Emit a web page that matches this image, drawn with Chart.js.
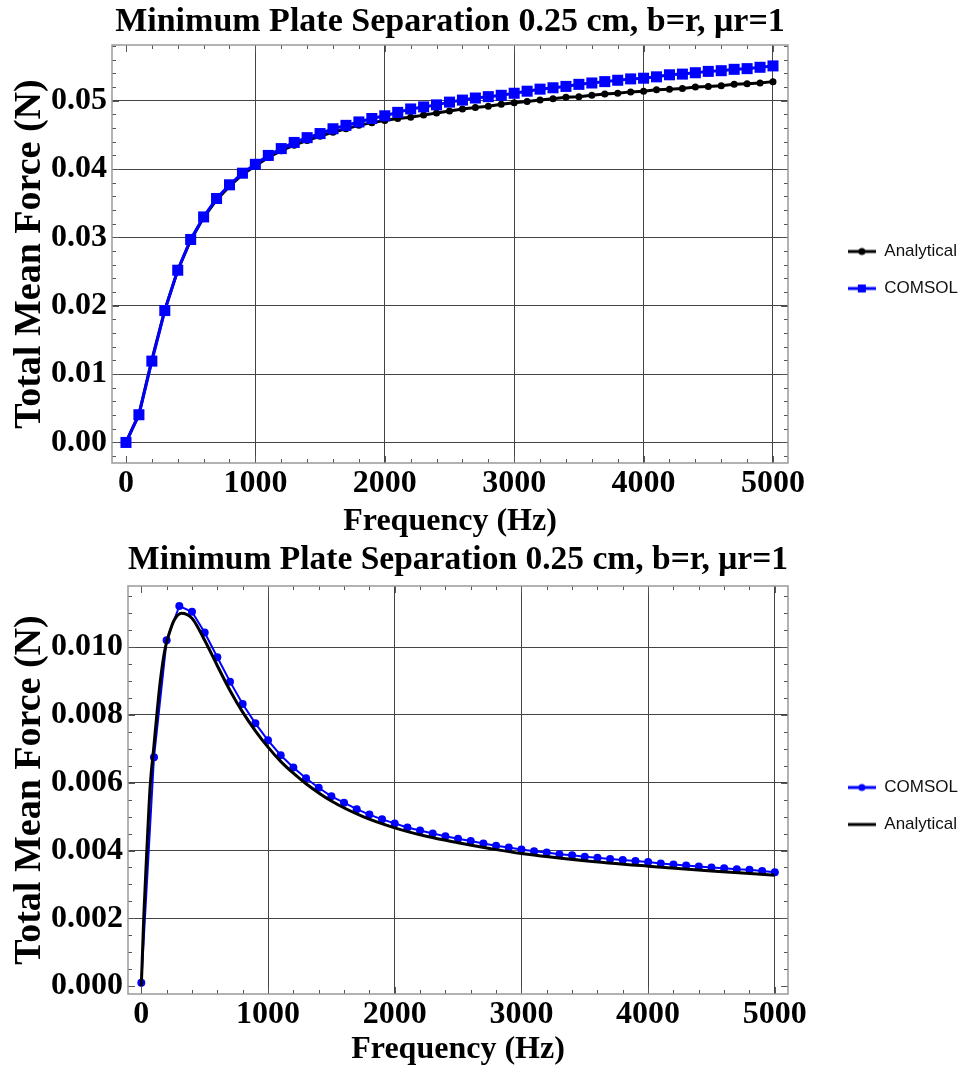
<!DOCTYPE html>
<html>
<head>
<meta charset="utf-8">
<script src="https://cdn.jsdelivr.net/npm/chart.js@4.4.1/dist/chart.umd.min.js"></script>
<style>
  body { margin: 0; background: #fff; }
  canvas { display: block; }
</style>
</head>
<body>
<canvas id="topChart" width="968" height="540"></canvas>
<canvas id="bottomChart" width="968" height="532"></canvas>
<script>
const plotTitle = "Minimum Plate Separation 0.25 cm, b=r, \u03bcr=1";

// frequency samples (Hz)
const freq = [0, 100, 200, 300, 400, 500, 600, 700, 800, 900, 1000,
  1100, 1200, 1300, 1400, 1500, 1600, 1700, 1800, 1900, 2000,
  2100, 2200, 2300, 2400, 2500, 2600, 2700, 2800, 2900, 3000,
  3100, 3200, 3300, 3400, 3500, 3600, 3700, 3800, 3900, 4000,
  4100, 4200, 4300, 4400, 4500, 4600, 4700, 4800, 4900, 5000];

// top plot
const analyticalTop = [0, 0.0041, 0.0121, 0.0194, 0.0252, 0.0296, 0.0329, 0.0355, 0.0375, 0.0392, 0.0405,
  0.0417, 0.0427, 0.0435, 0.0442, 0.0448, 0.0454, 0.0459, 0.0464, 0.0468, 0.0471,
  0.0474, 0.0476, 0.0479, 0.0482, 0.0485, 0.0488, 0.0490, 0.0492, 0.0495, 0.0497,
  0.0499, 0.0501, 0.0503, 0.0505, 0.0506, 0.0508, 0.0510, 0.0511, 0.0513, 0.0514,
  0.0516, 0.0517, 0.0518, 0.0520, 0.0521, 0.0522, 0.0524, 0.0525, 0.0526, 0.0528];
const comsolTop = [0, 0.00405, 0.0119, 0.0193, 0.0252, 0.0297, 0.0330, 0.0357, 0.0377, 0.0394, 0.0407,
  0.0420, 0.0430, 0.0439, 0.0446, 0.0452, 0.0459, 0.0464, 0.0469, 0.0474, 0.0478,
  0.0483, 0.0488, 0.0491, 0.0494, 0.0498, 0.0501, 0.0504, 0.0506, 0.0508, 0.0511,
  0.0514, 0.0517, 0.0519, 0.0521, 0.0524, 0.0526, 0.0528, 0.0530, 0.0532, 0.0533,
  0.0535, 0.0538, 0.0539, 0.0541, 0.0543, 0.0544, 0.0546, 0.0547, 0.0549, 0.0551];

// bottom plot
const comsolBottom = [0.0001, 0.00675, 0.0102, 0.01121, 0.01104, 0.01043, 0.0097, 0.00898, 0.00832, 0.00775, 0.00725,
  0.00681, 0.00645, 0.00613, 0.00585, 0.0056, 0.00541, 0.00522, 0.00506, 0.00492, 0.0048,
  0.00468, 0.00459, 0.0045, 0.00442, 0.00435, 0.00428, 0.00421, 0.00414, 0.00409, 0.00403,
  0.00398, 0.00394, 0.00389, 0.00386, 0.00382, 0.00379, 0.00375, 0.00372, 0.00369, 0.00366,
  0.00362, 0.00359, 0.00356, 0.00353, 0.0035, 0.00348, 0.00345, 0.00343, 0.0034, 0.00336];
const analyticalFreq = [0, 20, 45, 70, 100, 125, 150, 185, 220, 260, 316, 400, 500, 600, 700,
  800, 900, 1000, 1100, 1200, 1300, 1500, 1750, 2000, 2250, 2500, 2750, 3000, 3500, 4000, 4500, 5000];
const analyticalBottom = [0, 0.0021, 0.0041, 0.0059, 0.0071, 0.0081, 0.0090, 0.0099, 0.0104, 0.0108, 0.0110, 0.01085, 0.0102, 0.00945, 0.00872,
  0.00808, 0.00753, 0.00705, 0.00663, 0.00628, 0.00597, 0.00546, 0.0050, 0.00467, 0.00442, 0.00423, 0.00406, 0.00391, 0.0037, 0.00354, 0.0034, 0.00327];

// ticks
const xTicks = [0, 1000, 2000, 3000, 4000, 5000];
const yTicksTop = [0, 0.01, 0.02, 0.03, 0.04, 0.05];
const yLabelsTop = ['0.00', '0.01', '0.02', '0.03', '0.04', '0.05'];
const yTicksBottom = [0, 0.002, 0.004, 0.006, 0.008, 0.010];
const yLabelsBottom = ['0.000', '0.002', '0.004', '0.006', '0.008', '0.010'];

Chart.defaults.font.family = "'Liberation Serif', 'Times New Roman', serif";
Chart.defaults.color = '#000';

// frame + inward tick marks, like the original plot
const frameTicks = {
  id: 'frameTicks',
  beforeDatasetsDraw(chart, args, o) {
    const { ctx, chartArea: a } = chart;
    const sx = chart.scales.x, sy = chart.scales.y;
    ctx.save();
    ctx.strokeStyle = '#555';
    ctx.lineWidth = 1;
    const seg = (x1, y1, x2, y2) => { ctx.beginPath(); ctx.moveTo(x1, y1); ctx.lineTo(x2, y2); ctx.stroke(); };
    for (let i = Math.ceil(sx.min / o.xMinor); i * o.xMinor <= sx.max; i++) {
      const v = i * o.xMinor;
      const major = Math.abs(v / o.xMajor - Math.round(v / o.xMajor)) < 1e-6;
      const len = major ? 7 : 4;
      const px = Math.round(sx.getPixelForValue(v)) + 0.5;
      seg(px, a.bottom, px, a.bottom - len);
      seg(px, a.top, px, a.top + len);
    }
    for (let i = Math.ceil(sy.min / o.yMinor - 1e-9); i * o.yMinor <= sy.max + 1e-12; i++) {
      const v = i * o.yMinor;
      const major = Math.abs(v / o.yMajor - Math.round(v / o.yMajor)) < 1e-6;
      const len = major ? 7 : 4;
      const py = Math.round(sy.getPixelForValue(v)) + 0.5;
      seg(a.left, py, a.left + len, py);
      seg(a.right, py, a.right - len, py);
    }
    ctx.strokeStyle = '#999';
    ctx.lineWidth = 1.5;
    ctx.strokeRect(a.left, a.top, a.right - a.left, a.bottom - a.top);
    ctx.restore();
  }
};

function legendIcon(color, marker) {
  const c = document.createElement('canvas');
  c.width = 28; c.height = 12;
  const g = c.getContext('2d');
  g.strokeStyle = color; g.fillStyle = color; g.lineWidth = 3;
  g.beginPath(); g.moveTo(0, 6); g.lineTo(28, 6); g.stroke();
  if (marker === 'circle') { g.beginPath(); g.arc(14, 6, 3.5, 0, Math.PI * 2); g.fill(); }
  if (marker === 'rect') g.fillRect(10, 2, 8, 8);
  return c;
}

function buildChart(id, cfg) {
  return new Chart(document.getElementById(id), {
    type: 'line',
    data: { datasets: cfg.datasets },
    options: {
      responsive: false,
      animation: false,
      layout: { padding: 0 },
      plugins: {
        title: {
          display: true, text: plotTitle, fullSize: false,
          font: { size: 34, weight: 'bold', lineHeight: 1 },
          padding: cfg.titlePad
        },
        legend: {
          position: 'right',
          labels: {
            usePointStyle: true, pointStyleWidth: 28, padding: 20,
            font: { family: "'Liberation Sans', Arial, sans-serif", size: 17 },
            color: '#111',
            sort: (a, b) => a.datasetIndex - b.datasetIndex,
            generateLabels: chart => Chart.defaults.plugins.legend.labels.generateLabels(chart)
              .map(l => Object.assign(l, { pointStyle: cfg.icons[l.datasetIndex] }))
          }
        },
        tooltip: { enabled: false },
        frameTicks: cfg.tickSteps
      },
      scales: {
        x: {
          type: 'linear', min: cfg.xMin, max: cfg.xMax,
          afterBuildTicks: s => { s.ticks = xTicks.map(v => ({ value: v })); },
          afterFit: s => { s.height = cfg.xHeight; },
          ticks: { autoSkip: false, maxRotation: 0, padding: 2, font: { size: 32, weight: 'bold' },
            callback: v => String(v) },
          grid: { drawTicks: false, lineWidth: 1,
            color: c => (c.tick && c.tick.value === 0) ? 'rgba(0,0,0,0)' : '#444' },
          border: { display: false },
          title: { display: true, text: 'Frequency (Hz)', font: { size: 32, weight: 'bold', lineHeight: 1 },
            padding: { top: 0, bottom: cfg.xTitlePad } }
        },
        y: {
          type: 'linear', min: cfg.yMin, max: cfg.yMax,
          afterBuildTicks: s => { s.ticks = cfg.yTicks.map(v => ({ value: v })); },
          afterFit: s => { s.width = cfg.yWidth; },
          ticks: { autoSkip: false, padding: 5, font: { size: 32, weight: 'bold' },
            callback: (v, i) => cfg.yLabels[i] },
          grid: { drawTicks: false, lineWidth: 1,
            color: c => (c.tick && c.tick.value === 0 && !cfg.yZeroGrid) ? 'rgba(0,0,0,0)' : '#444' },
          border: { display: false },
          title: { display: true, text: 'Total Mean Force (N)', font: { size: 38, weight: 'bold', lineHeight: 1 },
            padding: { top: 11, bottom: 0 } }
        },
        gap: {
          position: 'right', display: true,
          afterFit: s => { s.width = Math.max(0, 968 - 788 - (s.chart.legend ? s.chart.legend.width : 140)); },
          ticks: { display: false },
          grid: { display: false, drawTicks: false },
          border: { display: false }
        }
      }
    },
    plugins: [frameTicks]
  });
}

buildChart('topChart', {
  datasets: [
    { label: 'Analytical', order: 1, data: freq.map((f, i) => ({ x: f, y: analyticalTop[i] })),
      borderColor: '#000', backgroundColor: '#000', borderWidth: 3,
      pointStyle: 'circle', pointRadius: 3.5, pointBorderWidth: 0 },
    { label: 'COMSOL', order: 0, data: freq.map((f, i) => ({ x: f, y: comsolTop[i] })),
      borderColor: '#0000ff', backgroundColor: '#0000ff', borderWidth: 3,
      pointStyle: 'rect', pointRadius: 7.8, pointBorderWidth: 0 }
  ],
  icons: [legendIcon('#000', 'circle'), legendIcon('#0000ff', 'rect')],
  titlePad: { top: 5, bottom: 6 },
  xMin: -108, xMax: 5116, yMin: -0.00301, yMax: 0.05816,
  yTicks: yTicksTop, yLabels: yLabelsTop, yZeroGrid: true,
  xHeight: 77, xTitlePad: 2, yWidth: 112,
  tickSteps: { xMinor: 200, xMajor: 1000, yMinor: 0.002, yMajor: 0.01 }
});

buildChart('bottomChart', {
  datasets: [
    { label: 'COMSOL', order: 1, data: freq.map((f, i) => ({ x: f, y: comsolBottom[i] })),
      borderColor: '#0000ff', backgroundColor: '#0000ff', borderWidth: 2,
      pointStyle: 'circle', pointRadius: 4, pointBorderWidth: 0 },
    { label: 'Analytical', order: 0, data: analyticalFreq.map((f, i) => ({ x: f, y: analyticalBottom[i] })),
      borderColor: '#000', backgroundColor: '#000', borderWidth: 3,
      pointRadius: 0, cubicInterpolationMode: 'monotone' }
  ],
  icons: [legendIcon('#0000ff', 'circle'), legendIcon('#000', null)],
  titlePad: { top: 3, bottom: 9 },
  xMin: -105, xMax: 5104, yMin: -0.00023, yMax: 0.0118,
  yTicks: yTicksBottom, yLabels: yLabelsBottom, yZeroGrid: false,
  xHeight: 78, xTitlePad: 6, yWidth: 128,
  tickSteps: { xMinor: 200, xMajor: 1000, yMinor: 0.0005, yMajor: 0.002 }
});
</script>
</body>
</html>
